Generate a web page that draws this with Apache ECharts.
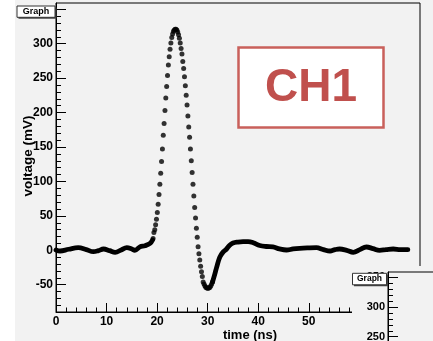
<!DOCTYPE html>
<html>
<head>
<meta charset="utf-8">
<title>CH1 waveform</title>
<script src="https://cdn.jsdelivr.net/npm/echarts@6/dist/echarts.min.js"></script>
<style>
html, body { margin: 0; padding: 0; background: #fff; }
#chart {
  width: 433px;
  height: 341px;
  background: linear-gradient(to right, #ffffff 15px, #f2f2f2 15px);
}
</style>
</head>
<body>
<div id="chart"></div>
<script>
// waveform: time in ns, voltage in mV
const baseTimes = [0, 0.8, 2.5, 4.4, 6.0, 7.4, 8.4, 9.4, 10.6, 11.7, 12.9, 14.0, 15.0, 15.6, 16.6, 17.6, 18.6, 19.1]
const baseVolts = [0.5, -1, 1.5, 3.8, 1, -2, -0.5, 1.9, -0.5, -2.9, 0.5, 3.8, 2, 0, 5, 6.7, 10, 15]

// the fast part, where single samples are visible as dots
const pulseStart = 19.2
const pulseStep = 0.168
const pulseVolts = [
  17, 26, 30, 37, 45, 55, 67, 81, 96, 112, 129, 147, 167, 184, 203, 221, 238, 254, 269, 281, 292, 301, 309,
  314, 318, 320, 321, 321, 320, 317, 313, 308,
  301, 293, 285, 274, 264, 252, 239, 225, 211, 195, 179, 164, 147, 130, 113, 96, 79, 62, 47, 32, 19, 5,
  -5, -14, -23, -31, -38, -46,
  -49, -51.5, -53.5, -54.5, -55, -55, -54.5, -53.5, -51.5, -49, -46
]

const tailTimes = [30.96, 31.4, 31.8, 32.4, 33.0, 33.7, 34.3, 35.0, 36.0, 37.0, 38.0, 39.0, 40.3, 41.6, 42.9, 44.2, 45.6, 46.9, 48.2, 49.9, 51.5, 52.9, 54.2, 55.2, 56.1, 57.5, 58.8, 60.1, 61.4, 62.7, 64.0, 65.3, 66.7, 68.1, 69.6]
const tailVolts = [-46, -35, -24, -10, -3, 1.5, 7, 10.5, 12, 12.5, 12.5, 11, 7, 5.5, 5, 2, 0.4, 2, 2.9, 3.5, 3.8, 1, -1, 1, 1.9, 0, -2.9, 1, 4.8, 2.5, 0, 1, 1.9, 1, 0.9]

// axis ticks
const xMajor = [0, 10, 20, 30, 40, 50, 60, 70]
const xMinor = [0, 2, 4, 6, 8, 10, 12, 14, 16, 18, 20, 22, 24, 26, 28, 30, 32, 34, 36, 38, 40, 42, 44, 46, 48, 50, 52, 54, 56, 58, 60, 62, 64, 66, 68, 70, 72]
const yMajor = [-50, 0, 50, 100, 150, 200, 250, 300, 350]
const yLabels = [-50, 0, 50, 100, 150, 200, 250, 300]
const yMinor = [-80, -70, -60, -50, -40, -30, -20, -10, 0, 10, 20, 30, 40, 50, 60, 70, 80, 90, 100, 110, 120, 130, 140, 150, 160, 170, 180, 190, 200, 210, 220, 230, 240, 250, 260, 270, 280, 290, 300, 310, 320, 330, 340, 350]
const insetMajor = [250, 300, 350]
const insetMinor = [240, 250, 260, 270, 280, 290, 300, 310, 320, 330, 340, 350]

const FONT = 'Liberation Sans'
const BG = '#f2f2f2'

const chart = echarts.init(document.getElementById('chart'))

function tickAxis(gridIndex, pos, min, max, values, len, labels, labelSize, z) {
  return {
    type: 'value',
    gridIndex: gridIndex,
    position: pos,
    min: min,
    max: max,
    z: z,
    axisLine: { show: !!labels, onZero: false, lineStyle: { color: '#000', width: 1 } },
    axisTick: { show: true, inside: true, length: len, customValues: values, lineStyle: { color: '#000', width: 1 } },
    axisLabel: labels ? {
      show: true,
      customValues: labels,
      margin: pos === 'bottom' ? 4 : 3,
      color: '#000',
      fontFamily: FONT,
      fontWeight: 'bold',
      fontSize: labelSize
    } : { show: false },
    splitLine: { show: false }
  }
}

function graphBox(x, y, w, h, size) {
  return [
    { type: 'rect', z: 30, shape: { x: x + 1.5, y: y + 1.5, width: w, height: h }, style: { fill: '#444' } },
    { type: 'rect', z: 31, shape: { x: x, y: y, width: w, height: h }, style: { fill: '#fff', stroke: '#333', lineWidth: 1 } },
    { type: 'text', z: 32, x: x + w / 2, y: y + h / 2, style: { text: 'Graph', fill: '#000', font: 'bold ' + size + 'px ' + FONT, align: 'center', verticalAlign: 'middle' } }
  ]
}

const option = {
  animation: false,
  grid: [
    { left: 56, top: 3, width: 364, height: 309, outerBoundsMode: 'none', show: true, borderColor: '#000', borderWidth: 1, backgroundColor: 'transparent', z: 0 },
    { left: 388, top: 272, width: 80, height: 269, outerBoundsMode: 'none', show: true, borderColor: '#000', borderWidth: 1, backgroundColor: BG, z: 6 }
  ],
  xAxis: [
    tickAxis(0, 'bottom', 0, 72, xMajor, 9, xMajor, 12, 1),
    tickAxis(0, 'bottom', 0, 72, xMinor, 4.5, null, 12, 1),
    { type: 'value', gridIndex: 1, min: 0, max: 72, show: false }
  ],
  yAxis: [
    tickAxis(0, 'left', -89.6, 359.1, yMajor, 10, yLabels, 12, 1),
    tickAxis(0, 'left', -89.6, 359.1, yMinor, 5, null, 12, 1),
    tickAxis(1, 'left', -92.6, 358.6, insetMajor, 10, insetMajor, 11, 7),
    tickAxis(1, 'left', -92.6, 358.6, insetMinor, 5, null, 11, 7)
  ],
  graphic: [
    // lower-right pad overlapping the main plot
    { type: 'rect', z: 5, shape: { x: 352, y: 266, width: 81, height: 75 }, style: { fill: BG } },
    ...graphBox(17, 6, 38, 11.3, 9),
    ...graphBox(352.5, 273.3, 34, 11.5, 8.5),
    // CH1 tag
    { type: 'rect', z: 25, shape: { x: 238.5, y: 47.5, width: 145, height: 80 }, style: { fill: '#fff', stroke: '#c9605b', lineWidth: 2.5 } },
    { type: 'text', z: 26, x: 311, y: 88, style: { text: 'CH1', fill: '#c0504d', font: 'bold 46px ' + FONT, align: 'center', verticalAlign: 'middle' } },
    // axis titles
    { type: 'text', z: 10, x: 28.5, y: 156, rotation: Math.PI / 2, style: { text: 'voltage (mV)', fill: '#000', font: 'bold 13.5px ' + FONT, align: 'center', verticalAlign: 'middle' } },
    { type: 'text', z: 10, x: 250, y: 335, style: { text: 'time (ns)', fill: '#000', font: 'bold 13px ' + FONT, align: 'center', verticalAlign: 'middle' } }
  ],
  series: [
    {
      type: 'line',
      xAxisIndex: 0,
      yAxisIndex: 0,
      data: baseTimes.map((t, i) => [t, baseVolts[i]]),
      smooth: 0.4,
      showSymbol: false,
      symbol: 'none',
      lineStyle: { color: '#000', width: 4.8, cap: 'round', join: 'round' },
      z: 2
    },
    {
      type: 'scatter',
      xAxisIndex: 0,
      yAxisIndex: 0,
      data: pulseVolts.map((v, i) => [pulseStart + i * pulseStep, v]),
      symbol: 'circle',
      symbolSize: 5,
      itemStyle: { color: '#000' },
      z: 2
    },
    {
      type: 'line',
      xAxisIndex: 0,
      yAxisIndex: 0,
      data: tailTimes.map((t, i) => [t, tailVolts[i]]),
      smooth: 0.4,
      showSymbol: false,
      symbol: 'none',
      lineStyle: { color: '#000', width: 4.8, cap: 'round', join: 'round' },
      z: 2
    }
  ]
}

chart.setOption(option)
</script>
</body>
</html>
